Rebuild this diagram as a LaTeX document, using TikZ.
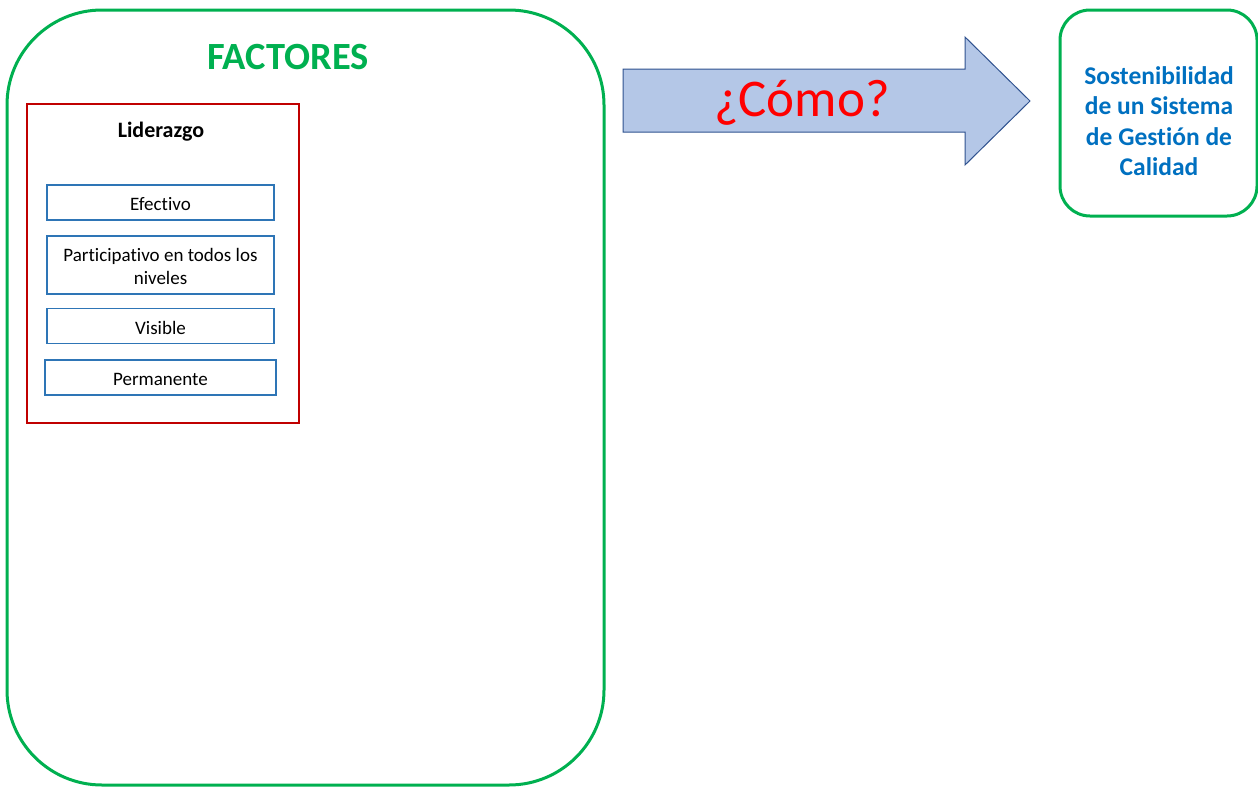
\documentclass[tikz,border=0pt]{standalone}
\usepackage{fontspec}
\setmainfont[Ligatures=NoCommon]{Carlito}
\definecolor{factgreen}{RGB}{0,176,80}
\definecolor{leadred}{RGB}{192,0,0}
\definecolor{itemblue}{RGB}{46,117,182}
\definecolor{arrowfill}{RGB}{180,199,231}
\definecolor{arrowline}{RGB}{47,82,143}
\definecolor{titleblue}{RGB}{0,112,192}
\begin{document}
\begin{tikzpicture}[x=1pt,y=-1pt,
  panel/.style={draw=factgreen,line width=3pt},
  itembox/.style={draw=itemblue,line width=1.4pt,minimum height=35pt,inner sep=0pt},
  itemtext/.style={font=\fontsize{19}{23}\selectfont,align=center},
  ]
\useasboundingbox (0,0) rectangle (1258,787);
% outer green panel holding the factors
\draw[panel,rounded corners=95pt] (7,10) rectangle (604,785);
\node[text=factgreen,font=\fontsize{38.5}{44}\selectfont\bfseries] (factores) at (288,57) {FACTORES};
% leadership group
\draw[draw=leadred,line width=2pt] (27,104) rectangle (299,423);
\node[font=\fontsize{22}{26}\selectfont\bfseries] (liderazgo) at (161,132) {Liderazgo};
% item boxes, each with its label set slightly below the box centre
\node[itembox,minimum width=227pt] (efectivo) at (160.5,202.5) {};
\node[itemtext] (efectivo-t) at ([yshift=-1.5pt]efectivo.center) {Efectivo};
\node[itembox,minimum width=227pt,minimum height=58pt] (particip) at (160.5,265) {};
\node[itemtext] (particip-t) at ([yshift=-1.5pt]particip.center) {Participativo en todos los\\niveles};
\node[itembox,minimum width=227pt] (visible) at (160.5,326) {};
\node[itemtext] (visible-t) at ([yshift=-1.5pt]visible.center) {Visible};
\node[itembox,minimum width=231pt] (permanente) at (160.5,377.5) {};
\node[itemtext] (permanente-t) at ([yshift=-1.5pt]permanente.center) {Permanente};
% block arrow with the question
\draw[fill=arrowfill,draw=arrowline,line width=1pt]
  (623,69) -- (965,69) -- (965,37) -- (1030,101) -- (965,165) -- (965,132) -- (623,132) -- cycle;
\node[text=red,font=\fontsize{53}{60}\selectfont] (como) at (802,102.5) {¿Cómo?};
% goal box
\draw[panel,rounded corners=30pt] (1060,10) rectangle (1257,216);
\node[text=titleblue,font=\fontsize{25.5}{30.5}\selectfont\bfseries,align=center] (meta) at (1159,121)
  {Sostenibilidad\\de un Sistema\\de Gestión de\\Calidad};
\end{tikzpicture}
\end{document}
